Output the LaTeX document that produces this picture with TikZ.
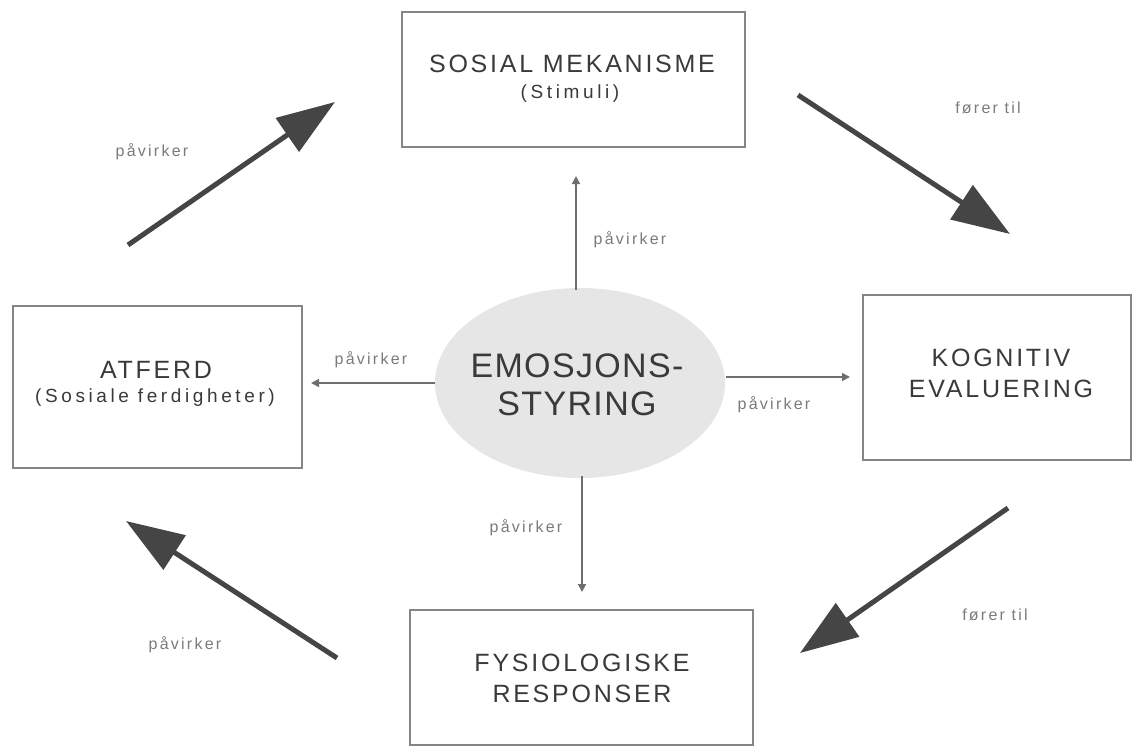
\documentclass[tikz,border=0pt]{standalone}
\usepackage{fontspec}
\setmainfont{Liberation Sans}
\usetikzlibrary{shapes.geometric,arrows.meta}
\definecolor{boxline}{HTML}{858585}
\definecolor{boxtext}{HTML}{3A3A3A}
\definecolor{labeltext}{HTML}{7A7A7A}
\definecolor{bigarrow}{HTML}{454545}
\definecolor{smallarrow}{HTML}{6E6E6E}
\definecolor{ovalfill}{HTML}{E6E6E6}
\tikzset{
  x=1pt, y=-1pt,
  stage/.style={draw=boxline, line width=2pt, fill=white, inner sep=0pt},
  stagetext/.style={text=boxtext, font=\fontsize{25}{31}\selectfont\addfontfeature{LetterSpace=11}, align=center},
  subtext/.style={text=boxtext, font=\fontsize{19}{22}\selectfont\addfontfeature{LetterSpace=19}, align=center},
  core/.style={ellipse, fill=ovalfill, minimum width=290pt, minimum height=190pt, inner sep=0pt},
  coretext/.style={text=boxtext, font=\fontsize{34}{38}\selectfont\addfontfeature{LetterSpace=4}, align=center},
  lbl/.style={text=labeltext, font=\fontsize{16}{18}\selectfont\addfontfeature{LetterSpace=14}},
  flow/.style={draw=bigarrow, line width=5pt, -{Triangle[length=58pt, width=40pt]}},
  effect/.style={draw=smallarrow, line width=1.6pt, -{Triangle[length=8pt, width=8pt]}}
}
\begin{document}
\begin{tikzpicture}
\useasboundingbox (0,0) rectangle (1133,747);

% four stage boxes
\draw[stage] (402,12) rectangle (745,147);
\draw[stage] (13,306) rectangle (302,468);
\draw[stage] (863,295) rectangle (1131,460);
\draw[stage] (410,610) rectangle (753,745);

\node[stagetext] (sos) at (572,64) {SOSIAL MEKANISME};
\node[subtext] (sossub) at (570,94) {(Stimuli)};
\node[stagetext] (atf) at (156,370) {ATFERD};
\node[subtext] (atfsub) at (155,398) {(Sosiale ferdigheter)};
\node[stagetext] (kog) at (1001,373) {KOGNITIV\\EVALUERING};
\node[stagetext] (fys) at (582,678) {FYSIOLOGISKE\\RESPONSER};

% central oval
\node[core] (emo) at (580,383) {};
\node[coretext] (emot) at (577,385) {EMOSJONS-\\STYRING};

% endpoints of the influence arrows
\coordinate (upTip) at (576,176);
\coordinate (rightTip) at (850,377);
\coordinate (leftTip) at (311,383);
\coordinate (downTip) at (582,592);
\coordinate (upBase) at (576,290);
\coordinate (rightBase) at (726,377);
\coordinate (leftBase) at (435,383);
\coordinate (downBase) at (582,476);

\draw[effect] (upBase) -- (upTip);
\draw[effect] (rightBase) -- (rightTip);
\draw[effect] (leftBase) -- (leftTip);
\draw[effect] (downBase) -- (downTip);

% the cycle arrows
\coordinate (c1a) at (128,245); \coordinate (c1b) at (335,102);
\coordinate (c2a) at (798,95);  \coordinate (c2b) at (1010,234);
\coordinate (c3a) at (1008,508); \coordinate (c3b) at (800,653);
\coordinate (c4a) at (337,658); \coordinate (c4b) at (126,521);
\draw[flow] (c1a) -- (c1b);
\draw[flow] (c2a) -- (c2b);
\draw[flow] (c3a) -- (c3b);
\draw[flow] (c4a) -- (c4b);

% labels
\node[lbl] (l1) at (152,152) {påvirker};
\node[lbl] (l2) at (630,240) {påvirker};
\node[lbl] (l3) at (371,360) {påvirker};
\node[lbl] (l4) at (774,405) {påvirker};
\node[lbl] (l5) at (526,528) {påvirker};
\node[lbl] (l6) at (185,645) {påvirker};
\node[lbl] (l7) at (988,108) {fører til};
\node[lbl] (l8) at (995,615) {fører til};
\end{tikzpicture}
\end{document}
